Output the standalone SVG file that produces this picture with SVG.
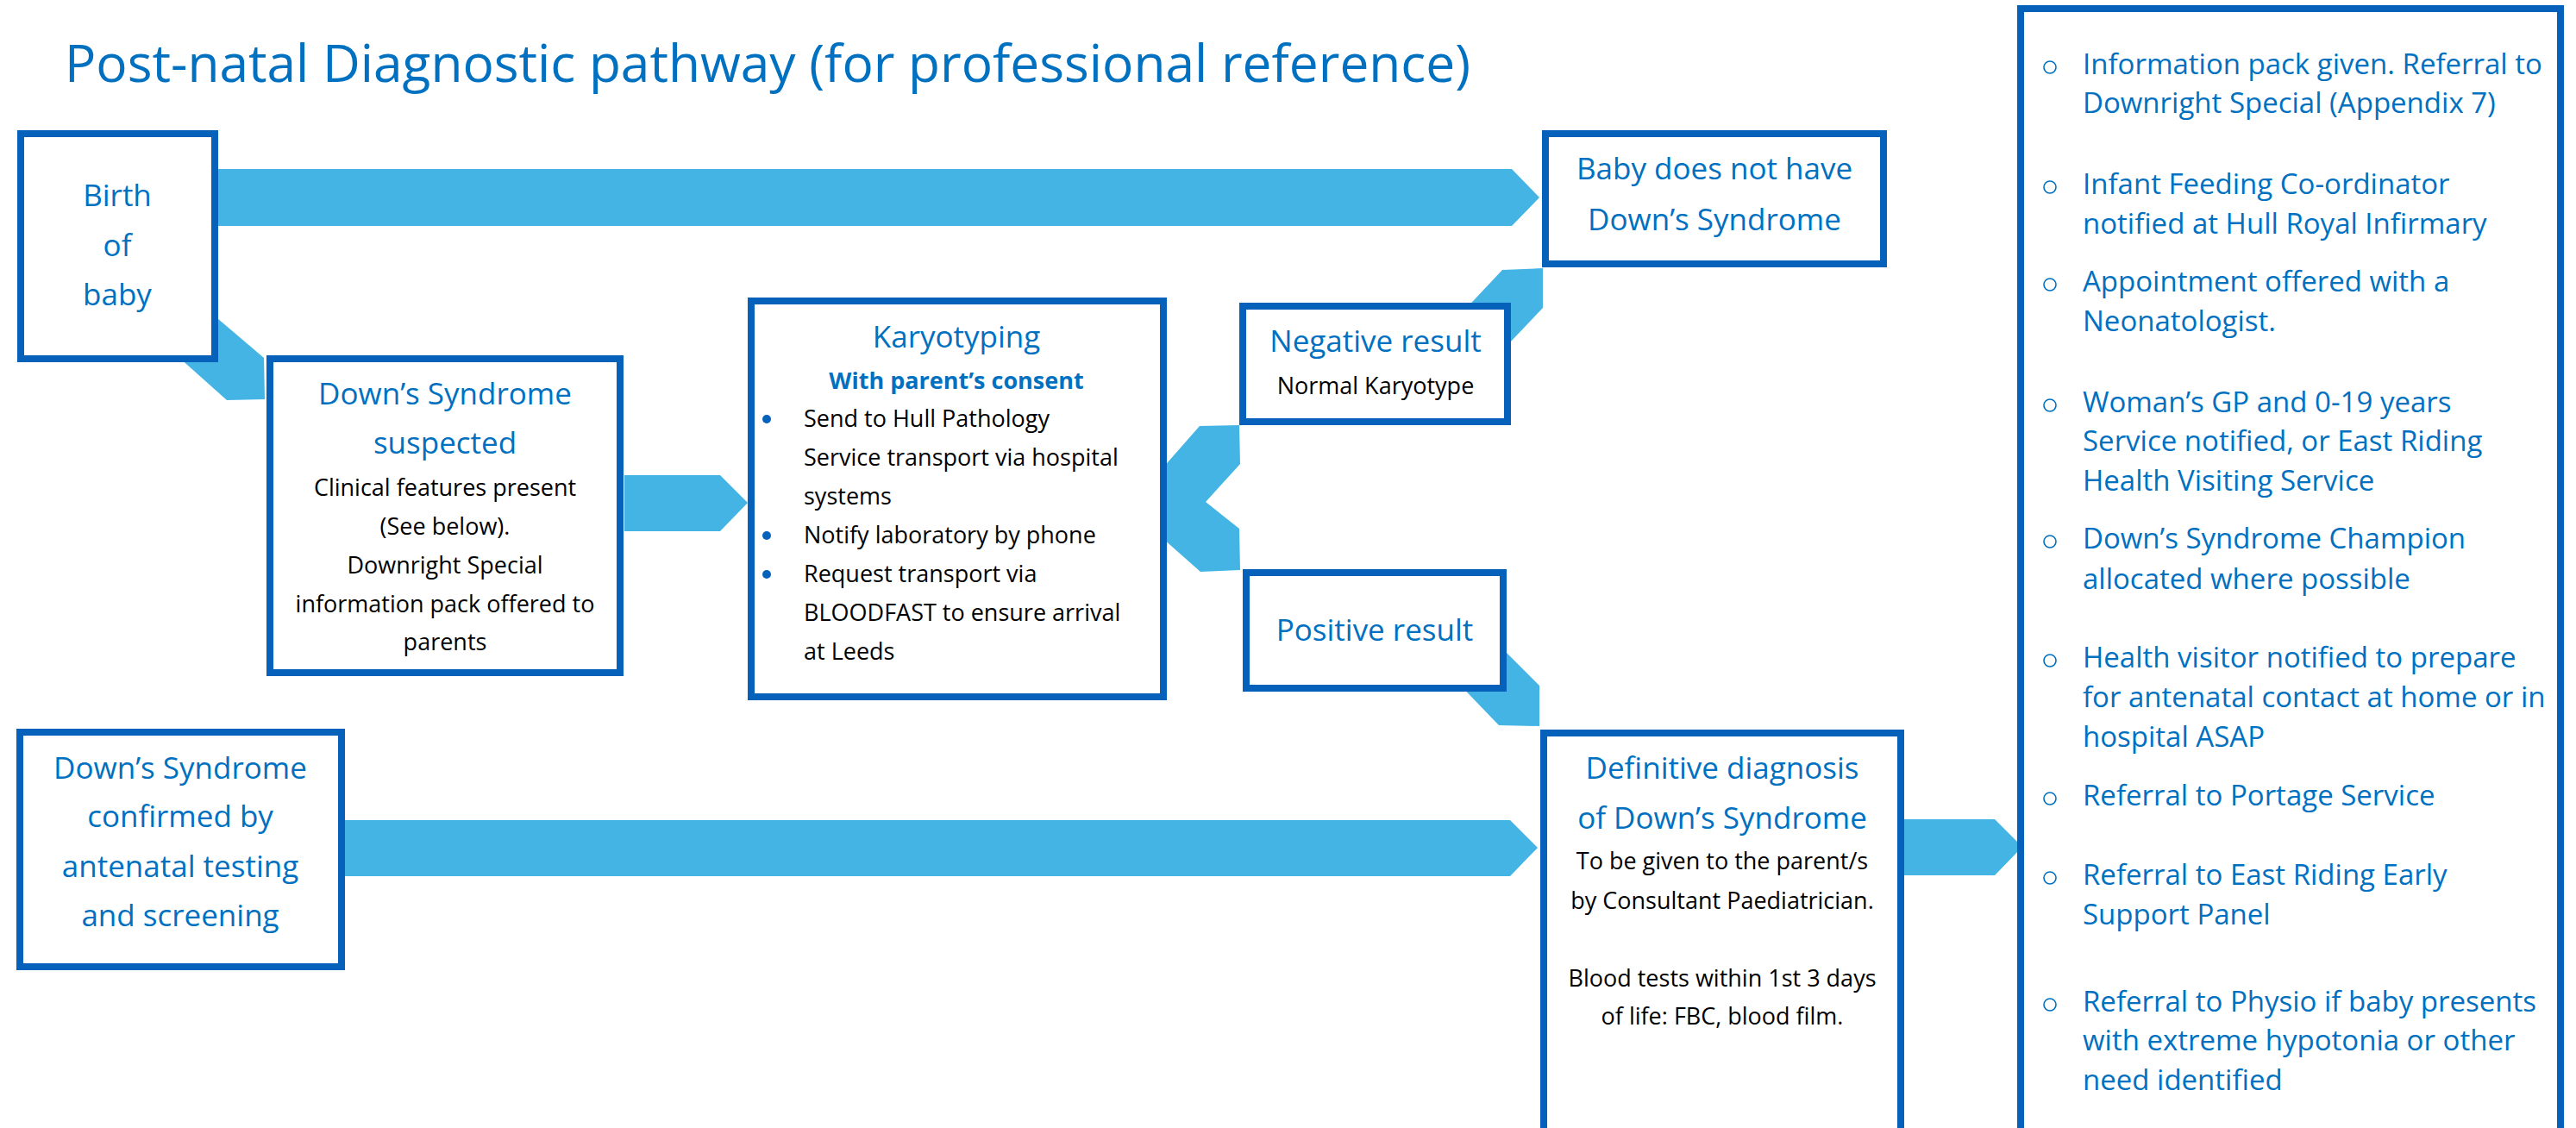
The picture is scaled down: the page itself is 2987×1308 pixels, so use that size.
<svg xmlns="http://www.w3.org/2000/svg" width="2987" height="1308" viewBox="0 0 2987 1308">
<style>
.box{fill:#fff;stroke:#0561B9;stroke-width:8}
.arr{fill:#44B4E4}
text{font-family:'Open Sans','Noto Sans',sans-serif}
.t{font-size:60px;fill:#0070C0}
.h{font-size:35px;fill:#0070C0;text-anchor:middle}
.bc{font-size:27px;fill:#000;text-anchor:middle}
.bl{font-size:27px;fill:#000}
.sb{font-size:27px;font-weight:bold;fill:#0070C0;text-anchor:middle}
.r{font-size:33px;fill:#0070C0}
.dot{fill:#0561B9}
.ring{fill:none;stroke:#0070C0;stroke-width:1.6}
</style>
<rect width="2987" height="1308" fill="#fff"/>
<text id="title" class="t" x="75" y="95" textLength="1630" lengthAdjust="spacingAndGlyphs">Post-natal Diagnostic pathway (for professional reference)</text>
<g id="connectors">
<polygon class="arr" points="240,196 1753,196 1785,229 1753,262 240,262"/>
<polygon class="arr" points="218,340 306,415 307,463 263,464 179,389"/>
<polygon class="arr" points="724,551 835,551 867,583 835,616 724,616"/>
<polygon class="arr" points="1340,552 1391,494 1437,493 1438,538 1398,582 1437,613 1438,661 1392,663 1340,617"/>
<polygon class="arr" points="1665,395 1742,313 1789,311 1789,357 1710,440"/>
<polygon class="arr" points="1700,710 1785,795 1785,842 1738,841 1660,760"/>
<polygon class="arr" points="390,951 1751,951 1783,983 1751,1016 390,1016"/>
<polygon class="arr" points="2200,950 2313,950 2345,982 2313,1015 2200,1015"/>
</g>
<g id="birth">
<rect class="box" x="24" y="155" width="225" height="261"/>
<text class="h" x="136" y="239">Birth</text>
<text class="h" x="136" y="297">of</text>
<text class="h" x="136" y="354">baby</text>
</g>
<g id="suspected">
<rect class="box" x="313" y="416" width="406" height="364"/>
<text class="h" x="516" y="469">Down’s Syndrome</text>
<text class="h" x="516" y="526">suspected</text>
<text class="bc" x="516" y="575">Clinical features present</text>
<text class="bc" x="516" y="620">(See below).</text>
<text class="bc" x="516" y="665">Downright Special</text>
<text class="bc" x="516" y="710">information pack offered to</text>
<text class="bc" x="516" y="754">parents</text>
</g>
<g id="karyotyping">
<rect class="box" x="871" y="349" width="478" height="459"/>
<text class="h" x="1109" y="403">Karyotyping</text>
<text class="sb" x="1109" y="451">With parent’s consent</text>
<circle class="dot" cx="889" cy="486" r="5"/>
<circle class="dot" cx="889" cy="621" r="5"/>
<circle class="dot" cx="889" cy="666" r="5"/>
<text class="bl" x="932" y="495">Send to Hull Pathology</text>
<text class="bl" x="932" y="540">Service transport via hospital</text>
<text class="bl" x="932" y="585">systems</text>
<text class="bl" x="932" y="630">Notify laboratory by phone</text>
<text class="bl" x="932" y="675">Request transport via</text>
<text class="bl" x="932" y="720">BLOODFAST to ensure arrival</text>
<text class="bl" x="932" y="765">at Leeds</text>
</g>
<g id="negative">
<rect class="box" x="1441" y="355" width="307" height="134"/>
<text class="h" x="1595" y="408">Negative result</text>
<text class="bc" x="1595" y="457">Normal Karyotype</text>
</g>
<g id="positive">
<rect class="box" x="1445" y="664" width="298" height="134"/>
<text class="h" x="1594" y="743">Positive result</text>
</g>
<g id="no-ds">
<rect class="box" x="1792" y="155" width="392" height="151"/>
<text class="h" x="1988" y="208">Baby does not have</text>
<text class="h" x="1988" y="267">Down’s Syndrome</text>
</g>
<g id="definitive">
<rect class="box" x="1790" y="850" width="414" height="500"/>
<text class="h" x="1997" y="903">Definitive diagnosis</text>
<text class="h" x="1997" y="961">of Down’s Syndrome</text>
<text class="bc" x="1997" y="1008">To be given to the parent/s</text>
<text class="bc" x="1997" y="1054">by Consultant Paediatrician.</text>
<text class="bc" x="1997" y="1144">Blood tests within 1st 3 days</text>
<text class="bc" x="1997" y="1188">of life: FBC, blood film.</text>
</g>
<g id="antenatal">
<rect class="box" x="23" y="849" width="373" height="272"/>
<text class="h" x="209" y="903">Down’s Syndrome</text>
<text class="h" x="209" y="959">confirmed by</text>
<text class="h" x="209" y="1017">antenatal testing</text>
<text class="h" x="209" y="1074">and screening</text>
</g>
<g id="actions">
<rect class="box" x="2343" y="10" width="626" height="1340"/>
<circle class="ring" cx="2377" cy="78" r="7"/>
<circle class="ring" cx="2377" cy="217" r="7"/>
<circle class="ring" cx="2377" cy="330" r="7"/>
<circle class="ring" cx="2377" cy="470" r="7"/>
<circle class="ring" cx="2377" cy="628" r="7"/>
<circle class="ring" cx="2377" cy="766" r="7"/>
<circle class="ring" cx="2377" cy="926" r="7"/>
<circle class="ring" cx="2377" cy="1018" r="7"/>
<circle class="ring" cx="2377" cy="1165" r="7"/>
<text class="r" x="2415" y="86">Information pack given. Referral to</text>
<text class="r" x="2415" y="131">Downright Special (Appendix 7)</text>
<text class="r" x="2415" y="225">Infant Feeding Co-ordinator</text>
<text class="r" x="2415" y="271">notified at Hull Royal Infirmary</text>
<text class="r" x="2415" y="338">Appointment offered with a</text>
<text class="r" x="2415" y="384">Neonatologist.</text>
<text class="r" x="2415" y="478">Woman’s GP and 0-19 years</text>
<text class="r" x="2415" y="523">Service notified, or East Riding</text>
<text class="r" x="2415" y="569">Health Visiting Service</text>
<text class="r" x="2415" y="636">Down’s Syndrome Champion</text>
<text class="r" x="2415" y="683">allocated where possible</text>
<text class="r" x="2415" y="774">Health visitor notified to prepare</text>
<text class="r" x="2415" y="820">for antenatal contact at home or in</text>
<text class="r" x="2415" y="866">hospital ASAP</text>
<text class="r" x="2415" y="934">Referral to Portage Service</text>
<text class="r" x="2415" y="1026">Referral to East Riding Early</text>
<text class="r" x="2415" y="1072">Support Panel</text>
<text class="r" x="2415" y="1173">Referral to Physio if baby presents</text>
<text class="r" x="2415" y="1218">with extreme hypotonia or other</text>
<text class="r" x="2415" y="1264">need identified</text>
</g>
</svg>
